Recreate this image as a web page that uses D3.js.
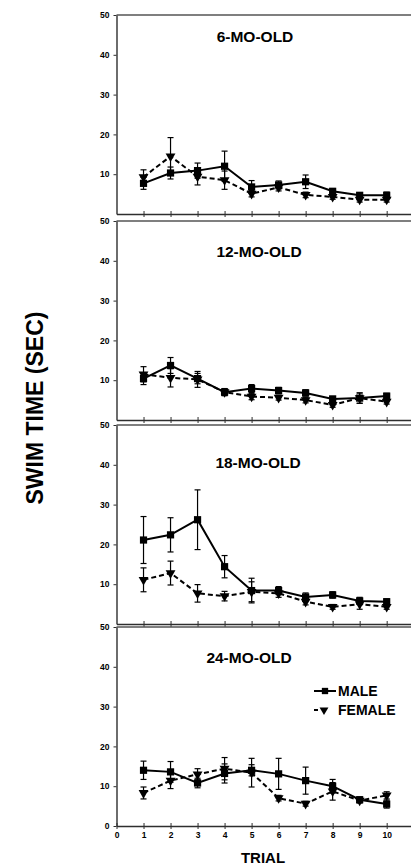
<!DOCTYPE html>
<html>
<head>
<meta charset="utf-8">
<script src="https://cdn.jsdelivr.net/npm/d3@7/dist/d3.min.js"></script>
<style>
  html, body { margin: 0; padding: 0; background: #fff; }
  svg { display: block; font-family: "Liberation Sans", Arial, sans-serif; }
</style>
</head>
<body>
<svg id="chart" width="411" height="865"></svg>
<script>
// Swim time per trial, by age group and sex (mean ± SEM, seconds)
const trials = [1, 2, 3, 4, 5, 6, 7, 8, 9, 10];
const ageGroups = ["6-MO-OLD", "12-MO-OLD", "18-MO-OLD", "24-MO-OLD"];
const seriesNames = ["MALE", "FEMALE"];

const male6 = [7.7, 10.3, 10.9, 12.0, 6.8, 7.3, 8.1, 5.7, 4.7, 4.7];
const male6Sem = [1.5, 1.5, 1.9, 3.8, 1.6, 1.0, 1.7, 0.7, 0.6, 0.8];
const female6 = [9.3, 14.5, 9.4, 8.5, 5.1, 6.7, 4.8, 4.3, 3.6, 3.6];
const female6Sem = [1.8, 4.7, 2.1, 2.3, 0.8, 0.9, 0.7, 0.6, 0.6, 0.6];

const male12 = [10.4, 13.7, 10.4, 7.0, 7.9, 7.4, 6.8, 5.3, 5.5, 6.0];
const male12Sem = [1.5, 2.0, 1.3, 0.9, 1.0, 0.8, 0.8, 0.6, 1.3, 0.7];
const female12 = [11.5, 10.6, 10.2, 7.0, 5.9, 5.6, 5.0, 3.8, 5.5, 4.6];
const female12Sem = [1.9, 2.3, 2.0, 0.8, 0.8, 0.6, 0.7, 0.6, 1.3, 0.6];

const male18 = [21.1, 22.4, 26.2, 14.4, 8.4, 8.4, 6.8, 7.3, 5.8, 5.6];
const male18Sem = [5.9, 4.3, 7.5, 2.8, 3.1, 1.0, 1.0, 0.8, 0.9, 0.7];
const female18 = [11.1, 12.8, 7.7, 7.0, 8.1, 7.7, 5.6, 4.3, 5.0, 4.3];
const female18Sem = [3.0, 3.0, 2.2, 1.2, 2.5, 1.0, 0.8, 0.6, 1.3, 0.6];

const male24 = [14.0, 13.6, 10.8, 13.2, 14.0, 13.1, 11.4, 10.0, 6.6, 5.5];
const male24Sem = [2.3, 2.6, 1.2, 2.4, 1.4, 3.9, 3.4, 1.7, 0.7, 1.0];
const female24 = [8.3, 11.4, 13.0, 14.4, 13.4, 7.0, 5.6, 8.7, 6.4, 7.7];
const female24Sem = [1.5, 2.0, 1.4, 2.8, 3.6, 0.7, 0.6, 2.2, 0.6, 0.9];

const yTicksUpper = [10, 20, 30, 40, 50];
const yTicksLower = [0, 10, 20, 30, 40, 50];
const xTicks = [0, 1, 2, 3, 4, 5, 6, 7, 8, 9, 10];

const panels = [
  { title: ageGroups[0], male: male6, maleSem: male6Sem, female: female6, femaleSem: female6Sem },
  { title: ageGroups[1], male: male12, maleSem: male12Sem, female: female12, femaleSem: female12Sem },
  { title: ageGroups[2], male: male18, maleSem: male18Sem, female: female18, femaleSem: female18Sem },
  { title: ageGroups[3], male: male24, maleSem: male24Sem, female: female24, femaleSem: female24Sem }
];

const svg = d3.select("#chart");
const axisColor = "#2e2e2e";
const panelBottoms = [214, 420, 624, 826];
const panelHeight = 199;
const titlePos = [[255, 42], [259, 257], [258, 468], [249, 663]];
const left = 116.5, right = 411;

const x = d3.scaleLinear().domain([0, 10.9]).range([left, right]);

panels.forEach((p, i) => {
  const bottom = panelBottoms[i];
  const y = d3.scaleLinear().domain([0, 50]).range([bottom, bottom - panelHeight]);
  const g = svg.append("g");
  const last = i === panels.length - 1;

  // top frame line
  g.append("line")
    .attr("x1", left).attr("x2", right)
    .attr("y1", y(50)).attr("y2", y(50))
    .attr("stroke", "#555").attr("stroke-width", 1.6);

  // left axis
  const yAxis = g.append("g")
    .attr("transform", `translate(${left},0)`)
    .call(d3.axisLeft(y).tickValues(last ? yTicksLower : yTicksUpper)
      .tickSize(3).tickPadding(4).tickSizeOuter(0));
  yAxis.select(".domain").attr("stroke", axisColor).attr("stroke-width", 1.4);
  yAxis.selectAll(".tick line").attr("stroke", axisColor);
  yAxis.selectAll(".tick text")
    .attr("font-size", 8.5).attr("font-weight", "bold").attr("fill", "#000");

  // bottom axis
  const xAxis = g.append("g")
    .attr("transform", `translate(0,${bottom})`)
    .call(d3.axisBottom(x).tickValues(last ? xTicks : trials)
      .tickSize(3).tickPadding(3).tickSizeOuter(0));
  xAxis.select(".domain").attr("stroke", axisColor).attr("stroke-width", 1.6);
  xAxis.selectAll(".tick line")
    .attr("y1", -3).attr("y2", 3).attr("stroke", axisColor).attr("stroke-width", 1);
  if (last) {
    xAxis.selectAll(".tick text")
      .attr("font-size", 8.5).attr("font-weight", "bold").attr("fill", "#000");
  } else {
    xAxis.selectAll(".tick text").remove();
  }

  // panel title
  g.append("text")
    .attr("x", titlePos[i][0])
    .attr("y", titlePos[i][1])
    .attr("text-anchor", "middle")
    .attr("font-size", 15.5).attr("font-weight", "bold")
    .text(p.title);

  const seriesList = [
    { name: seriesNames[1], vals: p.female, sem: p.femaleSem, dash: "5,3", shape: "tri" },
    { name: seriesNames[0], vals: p.male, sem: p.maleSem, dash: null, shape: "sq" }
  ];

  seriesList.forEach(s => {
    const pts = trials.map((t, k) => ({ t, v: s.vals[k], e: s.sem[k] }));

    // error bars
    const eb = g.append("g").attr("stroke", "#000").attr("stroke-width", 1.2);
    pts.forEach(d => {
      const cx = x(d.t), yt = y(d.v + d.e), yb = y(d.v - d.e);
      eb.append("line").attr("x1", cx).attr("x2", cx).attr("y1", yt).attr("y2", yb);
      eb.append("line").attr("x1", cx - 3).attr("x2", cx + 3).attr("y1", yt).attr("y2", yt);
      eb.append("line").attr("x1", cx - 3).attr("x2", cx + 3).attr("y1", yb).attr("y2", yb);
    });

    // line
    g.append("path")
      .datum(pts)
      .attr("fill", "none")
      .attr("stroke", "#000")
      .attr("stroke-width", 2)
      .attr("stroke-dasharray", s.dash)
      .attr("d", d3.line().x(d => x(d.t)).y(d => y(d.v)));

    // markers
    const sym = s.shape === "sq"
      ? d3.symbol().type(d3.symbolSquare).size(52)
      : d3.symbol().type(d3.symbolTriangle).size(42);
    g.selectAll(null)
      .data(pts)
      .join("path")
      .attr("d", sym)
      .attr("fill", "#000")
      .attr("transform", d => `translate(${x(d.t)},${y(d.v)})${s.shape === "tri" ? " rotate(180)" : ""}`);
  });
});

// legend
const legend = svg.append("g");
legend.append("line").attr("x1", 314).attr("x2", 336).attr("y1", 691).attr("y2", 691)
  .attr("stroke", "#000").attr("stroke-width", 2);
legend.append("path").attr("d", d3.symbol().type(d3.symbolSquare).size(40))
  .attr("transform", "translate(325,691)");
legend.append("text").attr("x", 338).attr("y", 696)
  .attr("font-size", 14).attr("font-weight", "bold").text(seriesNames[0]);
legend.append("line").attr("x1", 314).attr("x2", 318).attr("y1", 710).attr("y2", 710)
  .attr("stroke", "#000").attr("stroke-width", 2);
legend.append("path").attr("d", d3.symbol().type(d3.symbolTriangle).size(34))
  .attr("transform", "translate(324,710) rotate(180)");
legend.append("text").attr("x", 338).attr("y", 715)
  .attr("font-size", 14).attr("font-weight", "bold").text(seriesNames[1]);

// axis titles
svg.append("text")
  .attr("transform", "translate(43,408) rotate(-90)")
  .attr("text-anchor", "middle")
  .attr("font-size", 23).attr("font-weight", "bold")
  .text("SWIM TIME (SEC)");

svg.append("text")
  .attr("x", 263).attr("y", 863)
  .attr("text-anchor", "middle")
  .attr("font-size", 15).attr("font-weight", "bold")
  .text("TRIAL");
</script>
</body>
</html>
